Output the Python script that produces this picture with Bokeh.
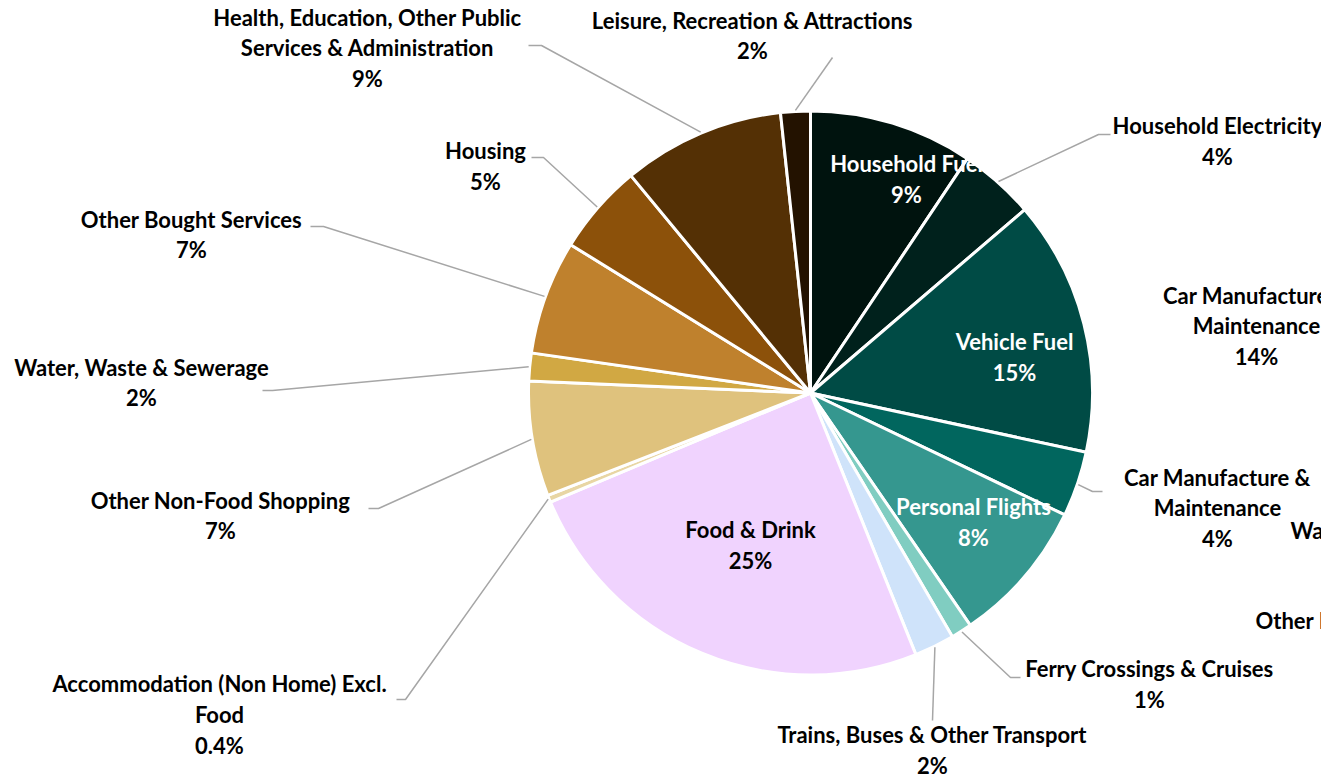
import math
from bokeh.plotting import figure
from bokeh.models import Range1d, ColumnDataSource
from bokeh.core.properties import value
from bokeh.embed import file_html
from bokeh.resources import INLINE

# ---------------- data ----------------
categories = [
    "Household Fuel", "Household Electricity", "Vehicle Fuel",
    "Car Manufacture & Maintenance", "Personal Flights",
    "Ferry Crossings & Cruises", "Trains, Buses & Other Transport",
    "Food & Drink", "Accommodation (Non Home) Excl. Food",
    "Other Non-Food Shopping", "Water, Waste & Sewerage",
    "Other Bought Services", "Housing",
    "Health, Education, Other Public Services & Administration",
    "Leisure, Recreation & Attractions",
]
shares = [9.4, 4.35, 14.65, 3.75, 8.3, 1.2, 2.3, 24.8, 0.4, 6.6, 1.6, 6.55, 5.2, 9.3, 1.7]
pct_labels = ["9%", "4%", "15%", "4%", "8%", "1%", "2%", "25%", "0.4%", "7%", "2%", "7%", "5%", "9%", "2%"]
colors = ["#00130e", "#00211c", "#004b45", "#01665e", "#35978f", "#80cdc1", "#cfe3fa",
          "#f0d3fe", "#e8d6a4", "#dfc27d", "#d1a843", "#bf812d", "#8c510a", "#543005", "#231200"]

# label wrapping as in the original
wrapped_names = [
    "Household Fuel", "Household Electricity", "Vehicle Fuel",
    "Car Manufacture &\nMaintenance", "Personal Flights",
    "Ferry Crossings & Cruises", "Trains, Buses & Other Transport",
    "Food & Drink", "Accommodation (Non Home) Excl.\nFood",
    "Other Non-Food Shopping", "Water, Waste & Sewerage",
    "Other Bought Services", "Housing",
    "Health, Education, Other Public\nServices & Administration",
    "Leisure, Recreation & Attractions",
]
white_label = [True, False, True, False, True, False, False, False,
               False, False, False, False, False, False, False]

# labels of a neighbouring chart, cut off at the right edge
clipped_texts = ["Car Manufacture &\nMaintenance\n14%", "Water, Waste & Sewerage", "Other Non-Food Shopping"]

# ---------------- layout (picture pixel coordinates) ----------------
W, H = 1321, 778
def Y(py):
    return H - py

CX, CY = 810, Y(392.5)
R = 282

label_pos = [(906, 178.5), (1217, 140.5), (1014, 356.5), (1217, 507.5), (973, 521.5),
             (1149, 683.5), (932, 749.5), (750, 544.5), (219, 714), (220, 515),
             (141, 382), (191, 234), (485, 165.5), (367, 47.5), (752, 35)]
# elbow and stub end of leader lines (None = no leader)
leader_pts = [None, [(1098, 134), (1110, 134)], None, [(1092, 491), (1102, 491)], None,
              [(1010, 677), (1020, 677)], [(932, 720)], None,
              [(405, 699), (396, 699)], [(378, 508), (368, 508)],
              [(272, 390), (262, 390)], [(323, 226), (310, 226)],
              [(543, 157), (531, 157)], [(541, 45), (528, 45)], [(832, 57)]]
clipped_pos = [(1256, 325.5, "center"), (1290, 530, "left"), (1255, 620, "left")]

FONT = "Lato"
FS = "22px"
LH = 1.14

total = sum(shares)
cum = [0.0]
for s in shares:
    cum.append(cum[-1] + s / total)

start_a, end_a = [], []
for i in range(len(shares)):
    # clockwise from 12 o'clock
    start_a.append(math.pi / 2 - 2 * math.pi * cum[i + 1])
    end_a.append(math.pi / 2 - 2 * math.pi * cum[i])

p = figure(width=W, height=H, x_range=Range1d(0, W), y_range=Range1d(0, H),
           output_backend="svg", toolbar_location=None,
           x_axis_location=None, y_axis_location=None, min_border=0)
p.grid.visible = False
p.outline_line_color = None
p.background_fill_color = "white"
p.border_fill_color = "white"

src = ColumnDataSource(dict(start=start_a, end=end_a, color=colors, name=categories))
p.wedge(x=CX, y=CY, radius=R, start_angle="start", end_angle="end", source=src,
        fill_color="color", line_color="white", line_width=3)

# leader lines
xs, ys = [], []
for i, pts in enumerate(leader_pts):
    if pts is None:
        continue
    mid = 2 * math.pi * (cum[i] + cum[i + 1]) / 2
    x0 = CX + (R + 1) * math.sin(mid)
    y0 = CY + (R + 1) * math.cos(mid)
    xs.append([x0] + [q[0] for q in pts])
    ys.append([y0] + [Y(q[1]) for q in pts])
p.multi_line(xs=xs, ys=ys, line_color="#a6a6a6", line_width=1.5)

# labels
lx, ly, lt, lc = [], [], [], []
for i in range(len(shares)):
    lx.append(label_pos[i][0])
    ly.append(Y(label_pos[i][1]))
    lt.append(wrapped_names[i] + "\n" + pct_labels[i])
    lc.append("white" if white_label[i] else "black")
p.text(x=lx, y=ly, text=lt, text_color=lc, text_font=value(FONT), text_font_size=FS,
       text_font_style="bold", text_align="center", text_baseline="middle",
       text_line_height=LH)

for (x, y, al), t in zip(clipped_pos, clipped_texts):
    p.text(x=[x], y=[Y(y)], text=[t], text_color="black", text_font=value(FONT),
           text_font_size=FS, text_font_style="bold", text_align=al,
           text_baseline="middle", text_line_height=LH)

open("out.html", "w").write(file_html(p, INLINE))
